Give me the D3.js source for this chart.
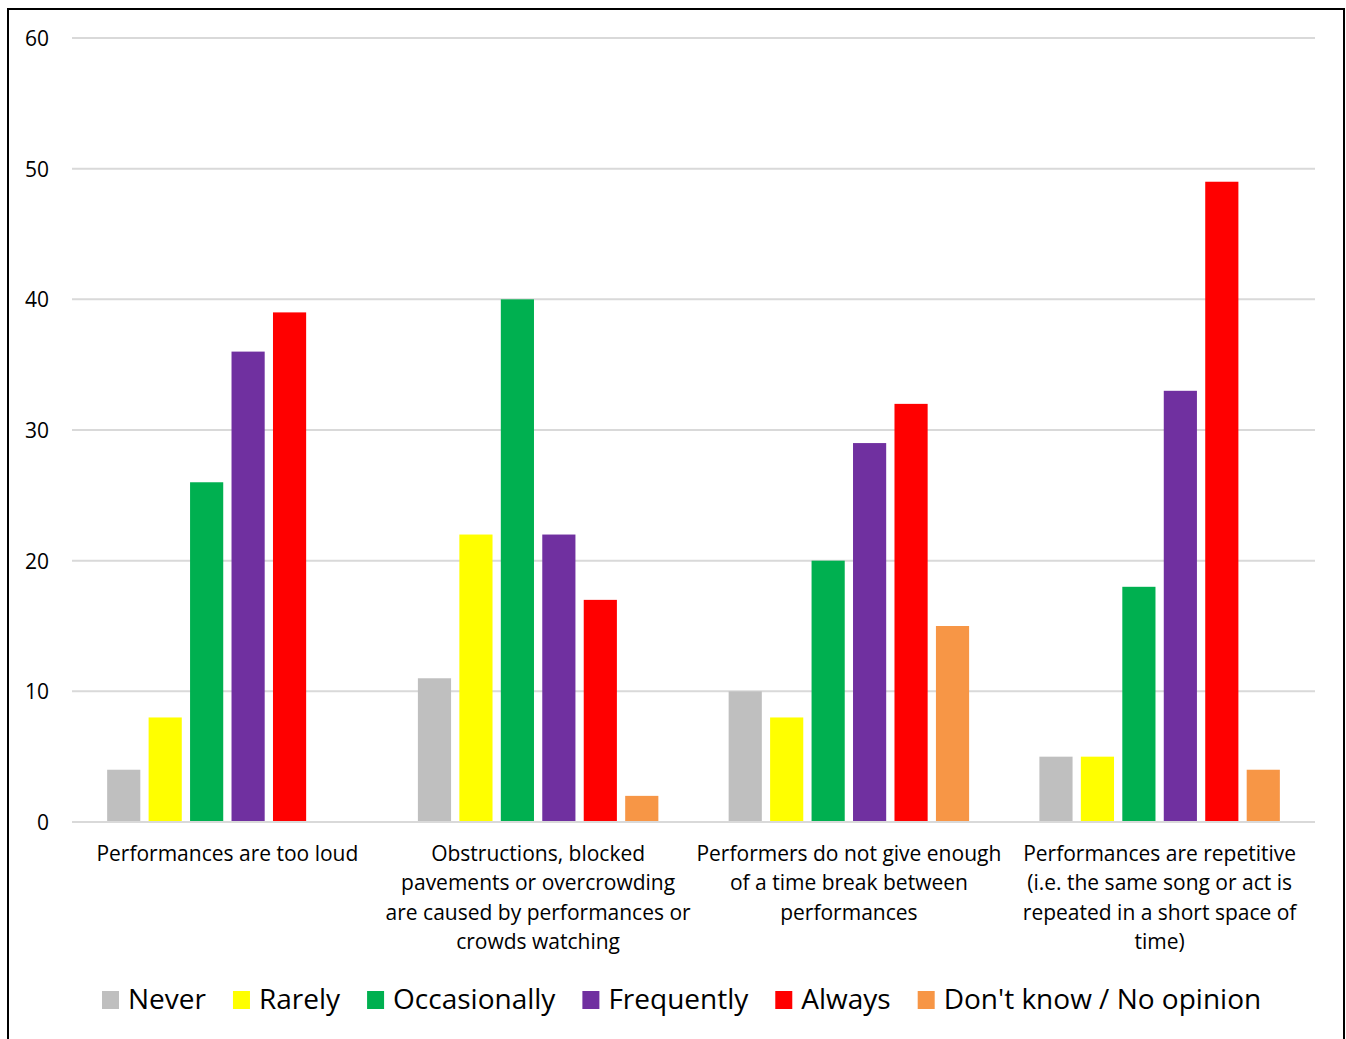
<!DOCTYPE html>
<html><head><meta charset="utf-8">
<script src="https://cdn.jsdelivr.net/npm/d3@7"></script>
<style>
html,body{margin:0;padding:0;background:#fff;}
svg{display:block;}
text{font-family:"Open Sans", Carlito, Lato, sans-serif;fill:#000;}
</style></head>
<body><svg id="chart" width="1346" height="1039"></svg>
<script>
const categories = [
  "Performances are too loud",
  "Obstructions, blocked\npavements or overcrowding\nare caused by performances or\ncrowds watching",
  "Performers do not give enough\nof a time break between\nperformances",
  "Performances are repetitive\n(i.e. the same song or act is\nrepeated in a short space of\ntime)"
];
const seriesNames = ["Never","Rarely","Occasionally","Frequently","Always","Don't know / No opinion"];
const never        = [4, 11, 10, 5];
const rarely       = [8, 22, 8, 5];
const occasionally = [26, 40, 20, 18];
const frequently   = [36, 22, 29, 33];
const always       = [39, 17, 32, 49];
const dontKnow     = [0, 2, 15, 4];
const yTicks = [0,10,20,30,40,50,60];
const colors = ["#BFBFBF","#FFFF00","#00B050","#7030A0","#FF0000","#F79646"];

const seriesValues = [never, rarely, occasionally, frequently, always, dontKnow];

const svg = d3.select("#chart");
// outer border
svg.append("rect").attr("x",8).attr("y",9).attr("width",1336).attr("height",1040)
  .attr("fill","none").attr("stroke","#000").attr("stroke-width",2);

const pLeft = 72, pRight = 1315, pTop = 38, pBottom = 822;
const y = d3.scaleLinear().domain([0,60]).range([pBottom, pTop]);
const x0 = d3.scaleBand().domain(categories.map((c,i)=>i)).range([pLeft,pRight]).paddingInner(0).paddingOuter(0);
const x1 = d3.scaleBand().domain(seriesNames).range([31, x0.bandwidth()-31]).paddingInner(0.2).paddingOuter(0.1);

// gridlines
svg.append("g").selectAll("line").data(yTicks.filter(t=>t>0)).join("line")
  .attr("x1",pLeft).attr("x2",pRight).attr("y1",d=>y(d)).attr("y2",d=>y(d))
  .attr("stroke","#D9D9D9").attr("stroke-width",2);

// y labels
const yAxis = d3.axisLeft(y).tickValues(yTicks).tickSize(0).tickPadding(0);
const yg = svg.append("g").attr("transform",`translate(49,0)`).call(yAxis);
yg.select(".domain").remove();
yg.selectAll("text").attr("font-size",21).attr("font-family","'Open Sans', Lato, sans-serif").attr("fill","#000").attr("dy","0.35em");

// bars
categories.forEach((c,ci)=>{
  const g = svg.append("g").attr("transform",`translate(${x0(ci)},0)`);
  g.selectAll("rect").data(seriesNames.map((s,si)=>({s,si,v:seriesValues[si][ci]})).filter(d=>d.v>0))
    .join("rect")
    .attr("x",d=>x1(d.s)).attr("width",x1.bandwidth())
    .attr("y",d=>y(d.v)).attr("height",d=>y(0)-y(d.v))
    .attr("fill",d=>colors[d.si]);
});

// x axis line
svg.append("line").attr("x1",pLeft).attr("x2",pRight).attr("y1",y(0)).attr("y2",y(0))
  .attr("stroke","#D9D9D9").attr("stroke-width",2);

// category labels
categories.forEach((c,ci)=>{
  const cx = x0(ci)+x0.bandwidth()/2;
  const t = svg.append("text").attr("text-anchor","middle").attr("font-size",21);
  c.split("\n").forEach((line,li)=>{
    t.append("tspan").attr("x",cx).attr("y",861+li*29.3).text(line);
  });
});

// legend
const lg = svg.append("g");
let lx = 102;
seriesNames.forEach((s,si)=>{
  lg.append("rect").attr("x",lx).attr("y",991).attr("width",17).attr("height",18).attr("fill",colors[si]);
  const t = lg.append("text").attr("x",lx+26).attr("y",1009).attr("font-size",28).text(s);
  const w = t.node().getComputedTextLength();
  lx = lx + 26 + w + 27;
});
</script></body></html>
